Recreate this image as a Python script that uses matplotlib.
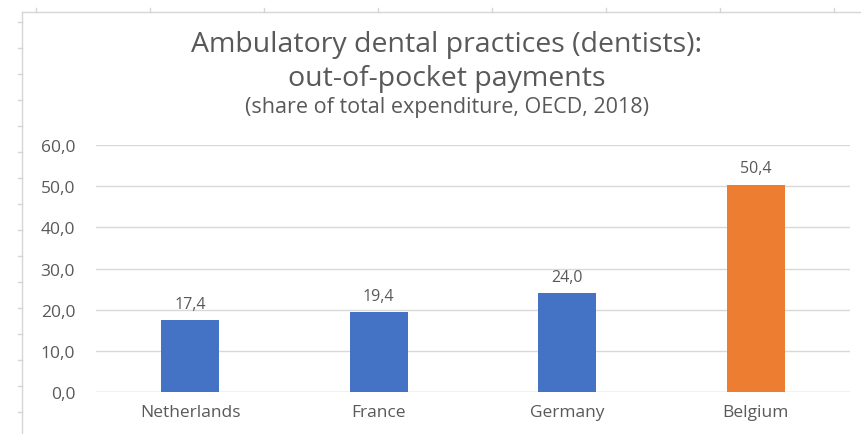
import numpy as np
import matplotlib.pyplot as plt
from matplotlib.lines import Line2D

countries = ["Netherlands", "France", "Germany", "Belgium"]
oop_share = [17.4, 19.4, 24.0, 50.4]
bar_colors = ["#4472C4", "#4472C4", "#4472C4", "#ED7D31"]
yticks = [0, 10, 20, 30, 40, 50, 60]

plt.rcParams['font.family'] = ['Open Sans', 'DejaVu Sans']
grey = "#595959"

W, H = 862, 435
fig = plt.figure(figsize=(W / 100, H / 100), dpi=100)
ax = fig.add_axes([96 / W, 1 - 393 / H, 754 / W, 247 / H])

x = range(len(countries))
bars = ax.bar(x, oop_share, width=0.31, color=bar_colors, zorder=3)
for b, v in zip(bars, oop_share):
    ax.text(b.get_x() + b.get_width() / 2, v + 2.0, f"{v:.1f}".replace(".", ","),
            ha="center", va="bottom", fontsize=11.5, color=grey)

ax.set_xlim(-0.5, len(countries) - 0.5)
ax.set_ylim(0, 60)
ax.set_yticks(yticks)
ax.set_yticklabels([f"{t:.1f}".replace(".", ",") for t in yticks])
ax.set_xticks(list(x))
ax.set_xticklabels(countries)
ax.tick_params(length=0, labelsize=12.5, labelcolor=grey)
ax.tick_params(axis="x", pad=9)
ax.tick_params(axis="y", pad=15)
ax.grid(axis="y", color="#D9D9D9", linewidth=1, zorder=0)
for s in ax.spines.values():
    s.set_visible(False)
ax.axhline(0, color="#D9D9D9", linewidth=1, zorder=2)

# titles
cx = 447 / W
fig.text(cx, 1 - 45 / H, "Ambulatory dental practices (dentists):", ha="center",
         va="center", fontsize=20.5, color=grey)
fig.text(cx, 1 - 79 / H, "out-of-pocket payments", ha="center",
         va="center", fontsize=20.5, color=grey)
fig.text(cx, 1 - 107 / H, "(share of total expenditure, OECD, 2018)", ha="center",
         va="center", fontsize=15.5, color=grey)

# light outer frame on top and left, with small ruler ticks
fx, fy = 22 / W, 1 - 13 / H
frame = "#D6D6D6"
fig.add_artist(Line2D([fx, 1.0], [fy, fy], color=frame, linewidth=1))
fig.add_artist(Line2D([fx, fx], [0.0, fy], color=frame, linewidth=1))
for px in np.arange(36, W, 114):
    fig.add_artist(Line2D([px / W, px / W], [fy, fy + 4 / H], color=frame, linewidth=1))
for py in np.arange(23, H, 26):
    fig.add_artist(Line2D([fx - 4 / W, fx], [1 - py / H, 1 - py / H], color=frame, linewidth=1))

fig.savefig("out.png", dpi=100)
